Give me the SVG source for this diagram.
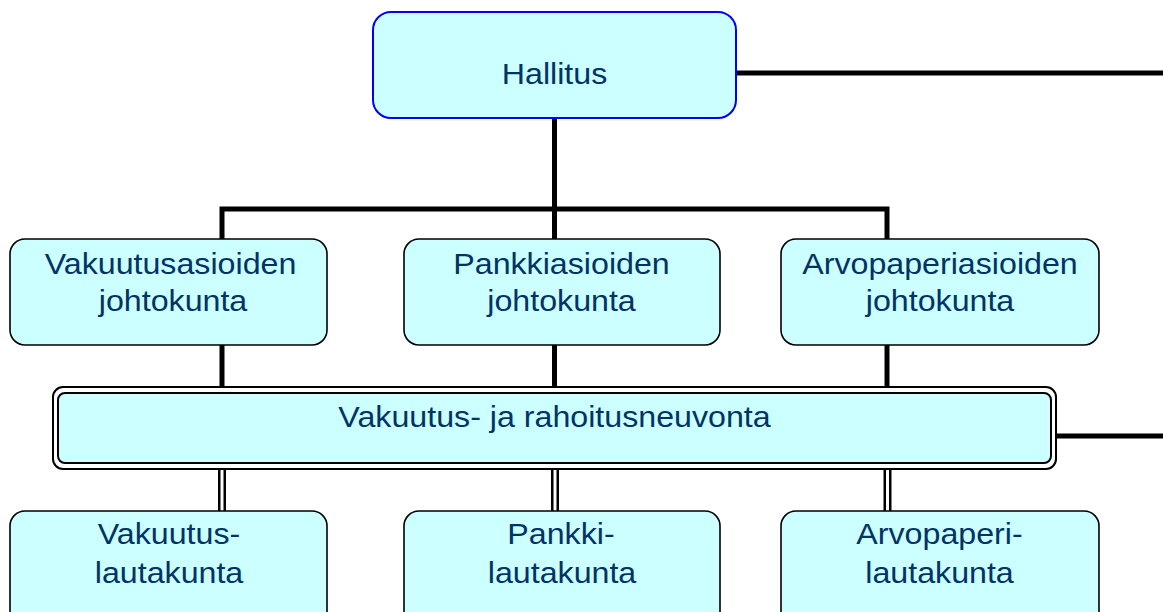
<svg xmlns="http://www.w3.org/2000/svg" width="1163" height="612" viewBox="0 0 1163 612">
<style>
.box{fill:#CCFFFF;stroke:#000;stroke-width:1.6}
.top{fill:#CCFFFF;stroke:#0000FF;stroke-width:2}
.t{font-family:"Liberation Sans",Arial,sans-serif;font-size:29px;fill:#003366;text-anchor:middle}
.thick{fill:none;stroke:#000;stroke-width:5;stroke-linejoin:miter}
.dblo{stroke:#000;stroke-width:8}
.dbli{stroke:#fff;stroke-width:3}
</style>
<rect width="1163" height="612" fill="#fff"/>
<g id="connectors">
<line class="thick" x1="736" y1="73" x2="1163" y2="73"/>
<line class="thick" x1="554.5" y1="118" x2="554.5" y2="239"/>
<polyline class="thick" points="222,239 222,209 887,209 887,239"/>
<line class="thick" x1="222" y1="345" x2="222" y2="388"/>
<line class="thick" x1="554.5" y1="345" x2="554.5" y2="388"/>
<line class="thick" x1="887" y1="345" x2="887" y2="388"/>
<line class="thick" x1="1056" y1="436" x2="1163" y2="436"/>
<line class="dblo" x1="222" y1="469" x2="222" y2="512"/>
<line class="dbli" x1="222" y1="469" x2="222" y2="512"/>
<line class="dblo" x1="555" y1="469" x2="555" y2="512"/>
<line class="dbli" x1="555" y1="469" x2="555" y2="512"/>
<line class="dblo" x1="887.5" y1="469" x2="887.5" y2="512"/>
<line class="dbli" x1="887.5" y1="469" x2="887.5" y2="512"/>
</g>
<g id="hallitus">
<rect class="top" x="373" y="12" width="363" height="106" rx="18"/>
<text class="t" transform="matrix(1.11 0 0 1 554.5 0)" x="0" y="84">Hallitus</text>
</g>
<g id="vakuutusasioiden">
<rect class="box" x="10" y="239" width="317" height="106" rx="15"/>
<text class="t" transform="matrix(1.11 0 0 1 170.5 0)" x="0" y="274">Vakuutusasioiden</text>
<text class="t" transform="matrix(1.11 0 0 1 173 0)" x="0" y="311">johtokunta</text>
</g>
<g id="pankkiasioiden">
<rect class="box" x="404" y="239" width="316" height="106" rx="15"/>
<text class="t" transform="matrix(1.11 0 0 1 561.5 0)" x="0" y="274">Pankkiasioiden</text>
<text class="t" transform="matrix(1.11 0 0 1 561.5 0)" x="0" y="311">johtokunta</text>
</g>
<g id="arvopaperiasioiden">
<rect class="box" x="781" y="239" width="318" height="106" rx="15"/>
<text class="t" transform="matrix(1.11 0 0 1 940 0)" x="0" y="274">Arvopaperiasioiden</text>
<text class="t" transform="matrix(1.11 0 0 1 940 0)" x="0" y="311">johtokunta</text>
</g>
<g id="neuvonta">
<rect x="53" y="387" width="1003" height="82" rx="10" fill="#fff" stroke="#000" stroke-width="2"/>
<rect x="58" y="393" width="993" height="70" rx="7" fill="#CCFFFF" stroke="#000" stroke-width="2"/>
<text class="t" transform="matrix(1.11 0 0 1 554.5 0)" x="0" y="427">Vakuutus- ja rahoitusneuvonta</text>
</g>
<g id="vakuutuslautakunta">
<rect class="box" x="10" y="511" width="317" height="120" rx="15"/>
<text class="t" transform="matrix(1.11 0 0 1 169 0)" x="0" y="544">Vakuutus-</text>
<text class="t" transform="matrix(1.11 0 0 1 169 0)" x="0" y="583">lautakunta</text>
</g>
<g id="pankkilautakunta">
<rect class="box" x="404" y="511" width="316" height="120" rx="15"/>
<text class="t" transform="matrix(1.11 0 0 1 561 0)" x="0" y="544">Pankki-</text>
<text class="t" transform="matrix(1.11 0 0 1 562 0)" x="0" y="583">lautakunta</text>
</g>
<g id="arvopaperilautakunta">
<rect class="box" x="781" y="511" width="318" height="120" rx="15"/>
<text class="t" transform="matrix(1.11 0 0 1 939.5 0)" x="0" y="544">Arvopaperi-</text>
<text class="t" transform="matrix(1.11 0 0 1 939.5 0)" x="0" y="583">lautakunta</text>
</g>
</svg>
